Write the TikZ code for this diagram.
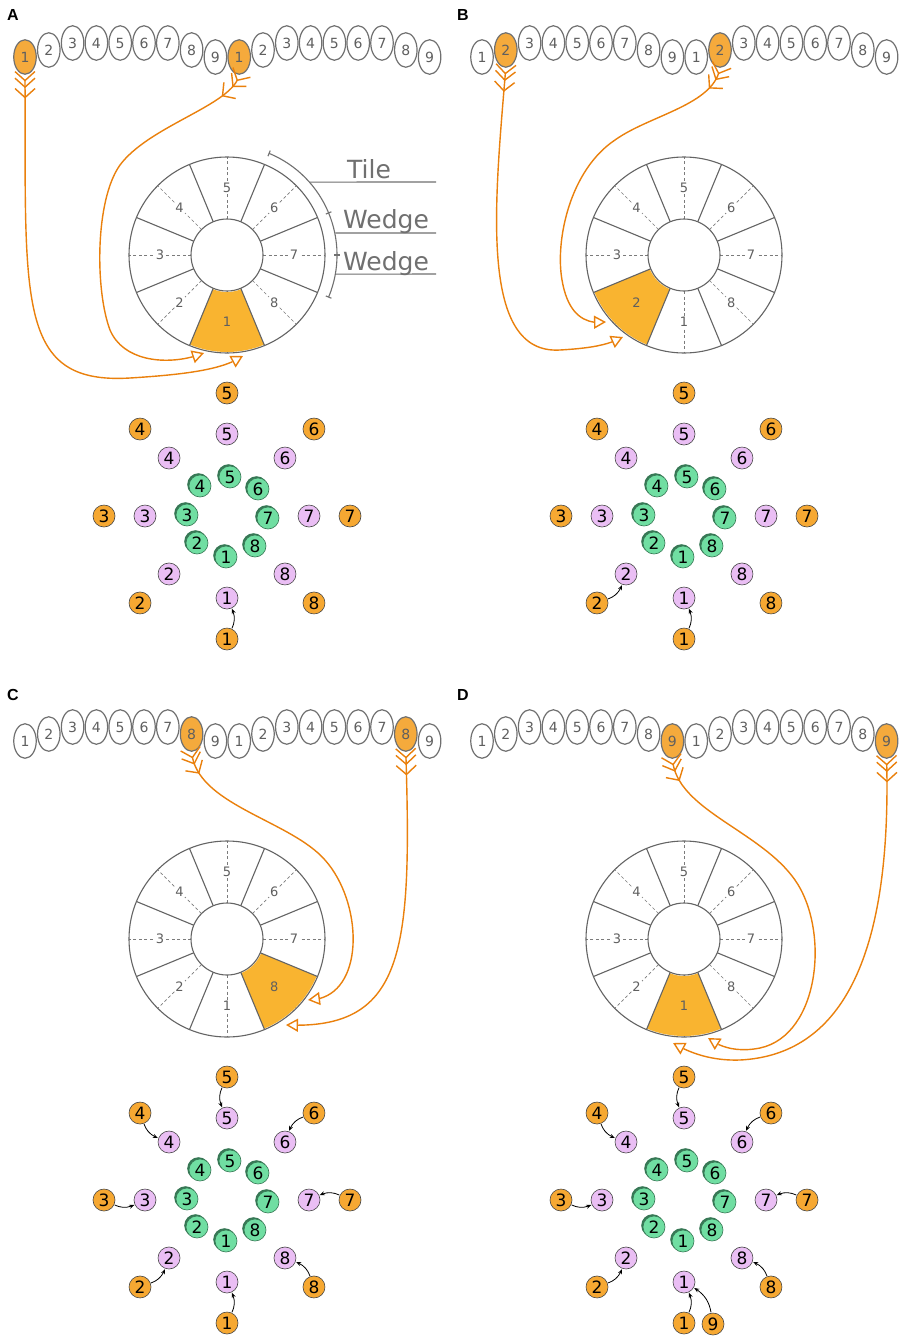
\documentclass[tikz,border=0pt]{standalone}
\usepackage{fontspec}
\setmainfont{DejaVu Sans}
\newfontfamily\lblfont{Liberation Sans}
\usetikzlibrary{arrows.meta,bending,shapes.geometric,calc}
\definecolor{ovgray}{RGB}{112,112,112}
\definecolor{txtgray}{RGB}{95,95,95}
\definecolor{wgray}{RGB}{100,100,100}
\definecolor{hlor}{RGB}{245,170,60}
\definecolor{orline}{RGB}{234,128,12}
\definecolor{wedgeor}{RGB}{249,180,48}
\definecolor{corange}{RGB}{246,168,50}
\definecolor{cpink}{RGB}{234,190,244}
\definecolor{cgreen}{RGB}{112,222,162}
\definecolor{cgreendk}{RGB}{55,120,85}
\definecolor{cedge}{RGB}{70,70,70}
\tikzset{
 oval/.style={ellipse, draw=ovgray, line width=1.2pt, minimum width=22.5pt, minimum height=34.5pt, inner sep=0pt, text=txtgray, font=\fontsize{14}{14}\selectfont},
 wline/.style={draw=wgray, line width=1.1pt},
 wdash/.style={draw=wgray!85, line width=0.7pt, dash pattern=on 3pt off 2.5pt},
 wlabel/.style={fill=white, inner sep=0.8pt, text=txtgray, font=\fontsize{13}{13}\selectfont},
 wlabelhl/.style={inner sep=0.8pt, text=txtgray, font=\fontsize{13}{13}\selectfont},
 circ/.style={circle, draw=cedge, line width=0.6pt, minimum size=22pt, inner sep=0pt, font=\fontsize{17}{17}\selectfont},
 cor/.style={circ, fill=corange},
 cpk/.style={circ, fill=cpink},
 cgr/.style={circ, fill=cgreen, draw=cgreendk},
 blk/.style={-{Stealth[length=5pt,width=4pt]}, line width=0.8pt, shorten >=0.5pt, shorten <=0.5pt},
 orarrow/.style={draw=orline, line width=1.4pt,
   {Straight Barb[reversed,length=9pt,width=20pt,sep=-4pt]Straight Barb[reversed,length=9pt,width=20pt,sep=-4pt]Straight Barb[reversed,length=9pt,width=20pt]}-{Triangle[length=12pt,width=13pt,fill=white]}},
 lbl/.style={font=\lblfont\bfseries\fontsize{16}{16}\selectfont},
 annot/.style={draw=ovgray, line width=1.1pt},
 annotxt/.style={text=ovgray, font=\fontsize{25}{25}\selectfont, inner sep=0pt}
}
\newcommand\toprow[2]{%
 \foreach \i in {1,...,18}{
  \pgfmathtruncatemacro\n{mod(\i-1,9)+1}
  \pgfmathsetmacro\dy{{14,7,0,0,0,0,0,7,14}[\n-1]}
  \ifnum\n=#2 \def\fc{hlor}\else\def\fc{white}\fi
  \node[oval, fill=\fc] (#1t\i) at ({25+(\i-1)*23.8},{43+\dy}) {\n};
 }}
\newcommand\wheel[2]{%
 \begin{scope}[shift={(227,255)}]
  \coordinate (#1c) at (0,0);
  \foreach \k in {1,...,8}{\pgfmathsetmacro\a{(\k-5)*45-90}
    \draw[wdash] (\a:36) -- (\a:98);}
  \pgfmathsetmacro\ha{(#2-5)*45-90}
  \fill[wedgeor] ({\ha-22.5}:37) -- ({\ha-22.5}:97) arc[start angle={\ha-22.5}, end angle={\ha+22.5}, radius=97] -- ({\ha+22.5}:37) arc[start angle={\ha+22.5}, end angle={\ha-22.5}, radius=37] -- cycle;
  \foreach \k in {0,...,7}{\draw[wline] ({22.5+45*\k}:36) -- ({22.5+45*\k}:98);}
  \draw[wline] (0,0) circle[radius=98];
  \draw[wline] (0,0) circle[radius=36];
  \foreach \k in {1,...,8}{\pgfmathsetmacro\a{(\k-5)*45-90}
    \ifnum\k=#2 \node[wlabelhl] (#1w\k) at (\a:67) {\k};
    \else \node[wlabel] (#1w\k) at (\a:67) {\k};\fi}
 \end{scope}}
\newcommand\circles[1]{%
 \begin{scope}[shift={(227,516)}]
  \foreach \k in {1,...,8}{\pgfmathsetmacro\a{(\k-5)*45-90}
    \node[cor] (#1o\k) at (\a:123) {\k};
    \node[cpk] (#1p\k) at (\a:82) {\k};}
  \foreach \k/\gx/\gy in {1/-1/41,2/-30/27,3/-40/-1,4/-27/-30,5/3/-39,6/31/-27,7/41/2,8/28/30}{
    \fill[cgreendk] ({\gx-1.5},{\gy-1.5}) circle[radius=11.3];
    \node[cgr] (#1g\k) at (\gx,\gy) {\k};}
 \end{scope}}
\begin{document}
\begin{tikzpicture}[x=1pt,y=-1pt]
\useasboundingbox[fill=white] (0,0) rectangle (903,1339);
% ---------------- panel A
\node[lbl] (labA) at (13,15) {A};
\toprow{A}{1}
\wheel{A}{1}
\circles{A}
\draw[blk] (Ao1) to[bend right=25] (Ap1);
% annotation
\draw[annot] (227,255) ++(-67.5:110) arc[start angle=-67.5, end angle=22.5, radius=110];
\foreach \t in {-67.5,-22.5,0,22.5}{\draw[annot] ($(227,255)+(\t:107)$) -- ($(227,255)+(\t:113)$);}
\coordinate (tileS) at ($(227,255)+(-41.3:110.5)$);
\coordinate (wedS1) at ($(227,255)+(-11.5:110.5)$);
\coordinate (wedS2) at ($(227,255)+(10:110.5)$);
\draw[annot] (tileS) -- (436,182);
\draw[annot] (wedS1) -- (436,233);
\draw[annot] (wedS2) -- (436,274);
\node[annotxt, anchor=base west] (tTile) at (347,178) {Tile};
\node[annotxt, anchor=base west] (tW1) at (343,228) {Wedge};
\node[annotxt, anchor=base west] (tW2) at (343,270) {Wedge};
% ---------------- panel B
\node[lbl] (labB) at (463,15) {B};
\begin{scope}[shift={(457,0)}]
\toprow{B}{2}
\wheel{B}{2}
\circles{B}
\end{scope}
\draw[blk] (Bo1) to[bend right=25] (Bp1);
\draw[blk] (Bo2) to[bend right=25] (Bp2);
% ---------------- panel C
\node[lbl] (labC) at (13,695) {C};
\begin{scope}[shift={(0,684)}]
\toprow{C}{8}
\wheel{C}{8}
\circles{C}
\end{scope}
\foreach \k in {1,...,8}{\draw[blk] (Co\k) to[bend right=25] (Cp\k);}
% ---------------- panel D
\node[lbl] (labD) at (463,695) {D};
\begin{scope}[shift={(457,684)}]
\toprow{D}{9}
\wheel{D}{1}
\circles{D}
\node[cor] (Do9) at (256,640) {9};
\end{scope}
\foreach \k in {1,...,8}{\draw[blk] (Do\k) to[bend right=25] (Dp\k);}
\draw[blk] (Do9) to[bend right=25] (Dp1);
% ---------------- orange connectors
\coordinate (Ae1) at (204,353);
\coordinate (Ae2) at (243,356);
\draw[orarrow] (At1.south) .. controls (26,300) and (15,385) .. (130,378) .. controls (195,374) and (225,368) .. (Ae2);
\draw[orarrow] (At10.south) .. controls (233,105) and (150,125) .. (120,165) .. controls (95,200) and (95,290) .. (110,330) .. controls (125,365) and (175,365) .. (Ae1);
\coordinate (Be1) at (606,322);
\coordinate (Be2) at (623,337);
\draw[orarrow] (Bt2.south) .. controls (495,200) and (478,355) .. (560,350) .. controls (595,348) and (610,344) .. (Be2);
\draw[orarrow] (Bt11.south) .. controls (714,105) and (650,115) .. (615,140) .. controls (570,170) and (555,240) .. (562,280) .. controls (568,315) and (585,325) .. (Be1);
\coordinate (Ce1) at (308,1000);
\coordinate (Ce2) at (286,1025);
\draw[orarrow] (Ct8.south) .. controls (196,805) and (290,820) .. (325,860) .. controls (365,905) and (365,1000) .. (Ce1);
\draw[orarrow] (Ct17.south) .. controls (412,950) and (405,1030) .. (Ce2);
\coordinate (De1) at (708,1038);
\coordinate (De2) at (673,1043);
\draw[orarrow] (Dt9.south) .. controls (676,810) and (760,830) .. (795,880) .. controls (830,930) and (820,1035) .. (760,1048) .. controls (735,1053) and (718,1046) .. (De1);
\draw[orarrow] (Dt18.south) .. controls (892,960) and (840,1055) .. (740,1060) .. controls (710,1061) and (688,1052) .. (De2);
\end{tikzpicture}
\end{document}
